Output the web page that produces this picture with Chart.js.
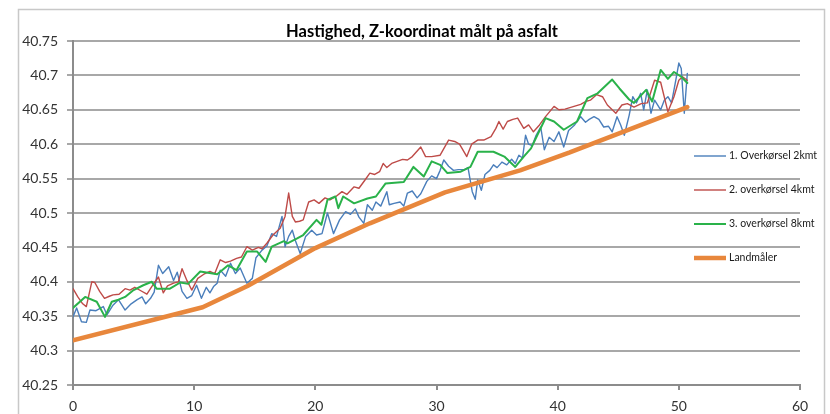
<!DOCTYPE html>
<html>
<head>
<meta charset="utf-8">
<script src="https://cdn.jsdelivr.net/npm/chart.js@4/dist/chart.umd.min.js"></script>
<style>
  html, body { margin: 0; padding: 0; background: #fff; }
  #chart { display: block; }
</style>
</head>
<body>
<canvas id="chart" width="830" height="414"></canvas>
<script>
  // Series labels
  const seriesNames = [
    "1. Overkørsel 2kmt",
    "2. overkørsel 4kmt",
    "3. overkørsel 8kmt",
    "Landmåler",
  ];

  // 1. Overkørsel 2kmt
  const run1X = [0, 0.3, 0.7, 1.1, 1.4, 1.9, 2.5, 2.8, 3.3, 3.75, 4.3, 4.8, 5.3, 5.7, 6.0, 6.4, 6.7, 7.05, 7.4, 7.9,
    8.3, 8.6, 9.0, 9.4, 9.8, 10.2, 10.6, 11.0, 11.3, 11.6, 11.9, 12.15, 12.6, 13.0, 13.4, 13.8, 14.35, 14.8, 15.1, 15.6,
    16.0, 16.4, 16.8, 17.25, 17.5, 17.8, 18.1, 18.35, 18.75, 19.2, 19.7, 20.1, 20.55, 21.0, 21.5, 22.0, 22.5, 22.9, 23.3, 23.6,
    24.0, 24.3, 24.7, 25.0, 25.4, 25.9, 26.1, 26.5, 27.0, 27.3, 27.6, 28.0, 28.4, 28.7, 29.2, 29.6, 30.0, 30.3, 30.6, 31.0,
    31.4, 31.8, 32.3, 32.6, 32.95, 33.2, 33.4, 33.7, 34.0, 34.4, 34.7, 35.0, 35.4, 35.8, 36.2, 36.5, 36.8, 37.1, 37.35, 37.6,
    37.9, 38.2, 38.6, 38.9, 39.3, 39.7, 40.1, 40.5, 40.9, 41.4, 41.9, 42.3, 42.6, 43.0, 43.4, 43.8, 44.2, 44.5, 44.9, 45.2,
    45.5, 45.9, 46.2, 46.5, 46.85, 47.1, 47.4, 47.7, 48.0, 48.5, 48.8, 49.1, 49.4, 49.75, 50.0, 50.2, 50.45, 50.7];
  const run1Z = [40.349, 40.362, 40.342, 40.341, 40.359, 40.358, 40.364, 40.352, 40.366, 40.374, 40.359, 40.368, 40.374, 40.378, 40.368, 40.376, 40.385, 40.424, 40.412, 40.422,
    40.402, 40.414, 40.386, 40.376, 40.380, 40.395, 40.376, 40.392, 40.384, 40.393, 40.398, 40.417, 40.408, 40.427, 40.412, 40.420, 40.398, 40.405, 40.435, 40.446,
    40.452, 40.470, 40.466, 40.495, 40.451, 40.466, 40.475, 40.460, 40.441, 40.466, 40.475, 40.468, 40.470, 40.500, 40.470, 40.490, 40.502, 40.498, 40.506, 40.494,
    40.485, 40.512, 40.504, 40.516, 40.510, 40.531, 40.512, 40.514, 40.516, 40.510, 40.529, 40.532, 40.522, 40.528, 40.546, 40.554, 40.550, 40.562, 40.577, 40.568,
    40.562, 40.563, 40.563, 40.566, 40.531, 40.520, 40.548, 40.533, 40.556, 40.562, 40.570, 40.566, 40.574, 40.570, 40.578, 40.572, 40.584, 40.580, 40.613, 40.600,
    40.598, 40.612, 40.625, 40.592, 40.610, 40.604, 40.618, 40.596, 40.620, 40.628, 40.640, 40.632, 40.636, 40.640, 40.636, 40.625, 40.626, 40.618, 40.640, 40.628,
    40.613, 40.642, 40.669, 40.660, 40.674, 40.650, 40.679, 40.645, 40.664, 40.650, 40.664, 40.669, 40.660, 40.693, 40.718, 40.710, 40.645, 40.703];

  // 2. overkørsel 4kmt
  const run2X = [0, 0.4, 0.8, 1.1, 1.55, 1.8, 2.2, 2.6, 3.0, 3.3, 3.8, 4.3, 4.7, 5.1, 5.6, 6.1, 6.5, 7.05, 7.45, 7.8,
    8.3, 8.7, 9.0, 9.4, 9.8, 10.3, 10.8, 11.3, 11.7, 12.15, 12.6, 13.0, 13.5, 13.9, 14.35, 14.8, 15.3, 15.6, 16.0, 16.5,
    17.1, 17.5, 17.8, 18.1, 18.35, 18.7, 19.0, 19.45, 19.9, 20.3, 20.8, 21.2, 21.7, 22.2, 22.6, 23.2, 23.6, 24.1, 24.5, 24.9,
    25.3, 25.6, 25.9, 26.3, 26.75, 27.2, 27.6, 28.0, 28.7, 29.1, 29.6, 30.3, 31.0, 31.5, 31.9, 32.5, 32.9, 33.4, 33.9, 34.5,
    34.9, 35.15, 35.5, 35.85, 36.3, 36.7, 37.2, 37.6, 38.0, 38.5, 39.0, 39.7, 40.1, 40.6, 41.35, 41.9, 42.3, 42.7, 43.2, 43.7,
    44.1, 44.8, 45.3, 45.75, 46.3, 46.9, 47.4, 48.0, 48.5, 49.1, 49.6, 50.0, 50.3, 50.7];
  const run2Z = [40.390, 40.378, 40.368, 40.364, 40.400, 40.399, 40.386, 40.376, 40.379, 40.381, 40.382, 40.390, 40.388, 40.392, 40.387, 40.382, 40.393, 40.407, 40.384, 40.394,
    40.398, 40.400, 40.419, 40.402, 40.388, 40.405, 40.411, 40.415, 40.412, 40.432, 40.428, 40.430, 40.434, 40.436, 40.451, 40.446, 40.450, 40.448, 40.456, 40.468,
    40.478, 40.495, 40.529, 40.495, 40.487, 40.488, 40.490, 40.516, 40.519, 40.514, 40.522, 40.519, 40.524, 40.531, 40.527, 40.538, 40.536, 40.548, 40.558, 40.556,
    40.560, 40.572, 40.566, 40.572, 40.575, 40.578, 40.577, 40.582, 40.596, 40.582, 40.582, 40.584, 40.606, 40.604, 40.600, 40.582, 40.600, 40.606, 40.606, 40.611,
    40.623, 40.633, 40.622, 40.633, 40.636, 40.638, 40.623, 40.628, 40.618, 40.628, 40.640, 40.655, 40.650, 40.651, 40.655, 40.658, 40.662, 40.664, 40.672, 40.669,
    40.657, 40.645, 40.657, 40.659, 40.654, 40.659, 40.660, 40.693, 40.690, 40.647, 40.669, 40.693, 40.698, 40.693];

  // 3. overkørsel 8kmt
  const run3X = [0, 1.0, 1.96, 2.64, 3.2, 3.75, 4.3, 5.0, 5.8, 6.5, 6.9, 8.0, 8.85, 9.5, 10.5, 11.9, 12.8, 13.5, 14.35, 15.2,
    15.9, 16.4, 17.4, 17.7, 18.5, 19.0, 20.1, 20.5, 21.0, 21.65, 21.9, 22.3, 23.2, 24.3, 25.0, 25.8, 27.3, 28.1, 28.95, 29.6,
    30.3, 30.9, 32.0, 32.8, 33.4, 34.7, 35.6, 36.5, 37.2, 37.8, 39.0, 39.7, 40.5, 41.6, 42.45, 43.3, 44.5, 45.1, 45.9, 46.3,
    47.3, 47.8, 48.5, 49.1, 49.6, 50.2, 50.7];
  const run3Z = [40.362, 40.378, 40.371, 40.349, 40.371, 40.374, 40.378, 40.388, 40.395, 40.400, 40.390, 40.390, 40.399, 40.397, 40.415, 40.411, 40.424, 40.417, 40.444, 40.444,
    40.429, 40.451, 40.459, 40.456, 40.463, 40.468, 40.490, 40.483, 40.519, 40.524, 40.507, 40.524, 40.514, 40.521, 40.524, 40.543, 40.545, 40.567, 40.553, 40.575,
    40.570, 40.558, 40.560, 40.567, 40.589, 40.589, 40.582, 40.567, 40.582, 40.594, 40.638, 40.633, 40.621, 40.633, 40.667, 40.674, 40.694, 40.681, 40.665, 40.660,
    40.679, 40.662, 40.708, 40.695, 40.705, 40.698, 40.689];

  // Landmåler
  const surveyX = [0, 10.7, 14.4, 20, 24.5, 30.7, 36.9, 41, 50.7];
  const surveyZ = [40.315, 40.363, 40.394, 40.449, 40.485, 40.530, 40.562, 40.588, 40.654];

  // Axis ticks
  const xTickValues = [0, 10, 20, 30, 40, 50, 60];
  const yTickValues = [40.25, 40.3, 40.35, 40.4, 40.45, 40.5, 40.55, 40.6, 40.65, 40.7, 40.75];
  const yTickLabels = ["40.25", "40.3", "40.35", "40.4", "40.45", "40.5", "40.55", "40.6", "40.65", "40.7", "40.75"];

  const chartTitle = "Hastighed, Z-koordinat målt på asfalt";

  function toPoints(xs, ys) {
    return xs.map((x, i) => ({ x: x, y: ys[i] }));
  }

  // Frame, title and legend drawn the Excel way (legend sits over the plot)
  const excelDecor = {
    id: "excelDecor",
    beforeDraw(chart) {
      const ctx = chart.ctx;
      ctx.save();
      ctx.fillStyle = "#fff";
      ctx.fillRect(0, 0, chart.width, chart.height);
      ctx.strokeStyle = "#c8c8c8";
      ctx.lineWidth = 1.5;
      ctx.strokeRect(18.5, 9.5, 806, 420);
      ctx.restore();
    },
    afterDraw(chart) {
      const ctx = chart.ctx;
      ctx.save();
      ctx.fillStyle = "#000";
      ctx.font = "bold 16.5px Lato";
      ctx.textAlign = "center";
      ctx.textBaseline = "middle";
      ctx.fillText(chartTitle, 422, 32);

      ctx.font = "10.5px Lato";
      ctx.textAlign = "left";
      chart.data.datasets.forEach((ds, i) => {
        const y = 156 + i * 34;
        ctx.strokeStyle = ds.borderColor;
        ctx.lineWidth = ds.borderWidth;
        ctx.beginPath();
        ctx.moveTo(694, y);
        ctx.lineTo(726, y);
        ctx.stroke();
        ctx.fillStyle = "#1a1a1a";
        ctx.fillText(ds.label, 729, y);
      });
      ctx.restore();
    },
  };

  new Chart(document.getElementById("chart"), {
    type: "line",
    data: {
      datasets: [
        {
          label: seriesNames[0],
          data: toPoints(run1X, run1Z),
          borderColor: "#4a7ebb",
          borderWidth: 1.4,
          order: 4,
        },
        {
          label: seriesNames[1],
          data: toPoints(run2X, run2Z),
          borderColor: "#be4b48",
          borderWidth: 1.4,
          order: 3,
        },
        {
          label: seriesNames[2],
          data: toPoints(run3X, run3Z),
          borderColor: "#2ab24a",
          borderWidth: 2,
          order: 2,
        },
        {
          label: seriesNames[3],
          data: toPoints(surveyX, surveyZ),
          borderColor: "#e8873c",
          borderWidth: 4.5,
          order: 1,
        },
      ],
    },
    options: {
      responsive: false,
      animation: false,
      layout: { padding: { top: 41, right: 30, left: 0, bottom: 0 } },
      elements: {
        point: { radius: 0 },
        line: { tension: 0, borderCapStyle: "round", borderJoinStyle: "round" },
      },
      plugins: {
        legend: { display: false },
        title: { display: false },
        tooltip: { enabled: false },
      },
      scales: {
        x: {
          type: "linear",
          min: 0,
          max: 60,
          afterFit(scale) { scale.height = 29; },
          afterBuildTicks(scale) { scale.ticks = xTickValues.map((v) => ({ value: v })); },
          border: { color: "#8c8c8c", width: 2 },
          grid: { drawOnChartArea: false, drawTicks: true, tickLength: 5, color: "#8c8c8c", lineWidth: 2 },
          ticks: {
            padding: 8,
            color: "#333",
            font: { family: "Lato", size: 14 },
            maxRotation: 0,
            callback: (v) => String(v),
          },
        },
        y: {
          min: 40.25,
          max: 40.75,
          afterFit(scale) { scale.width = 73; },
          afterBuildTicks(scale) { scale.ticks = yTickValues.map((v) => ({ value: v })); },
          border: { color: "#8c8c8c", width: 2 },
          grid: { color: "#a8a8a8", lineWidth: 2, drawTicks: true, tickLength: 6 },
          ticks: {
            padding: 9,
            color: "#333",
            font: { family: "Lato", size: 14 },
            callback: (v, i) => yTickLabels[i],
          },
        },
      },
    },
    plugins: [excelDecor],
  });
</script>
</body>
</html>
